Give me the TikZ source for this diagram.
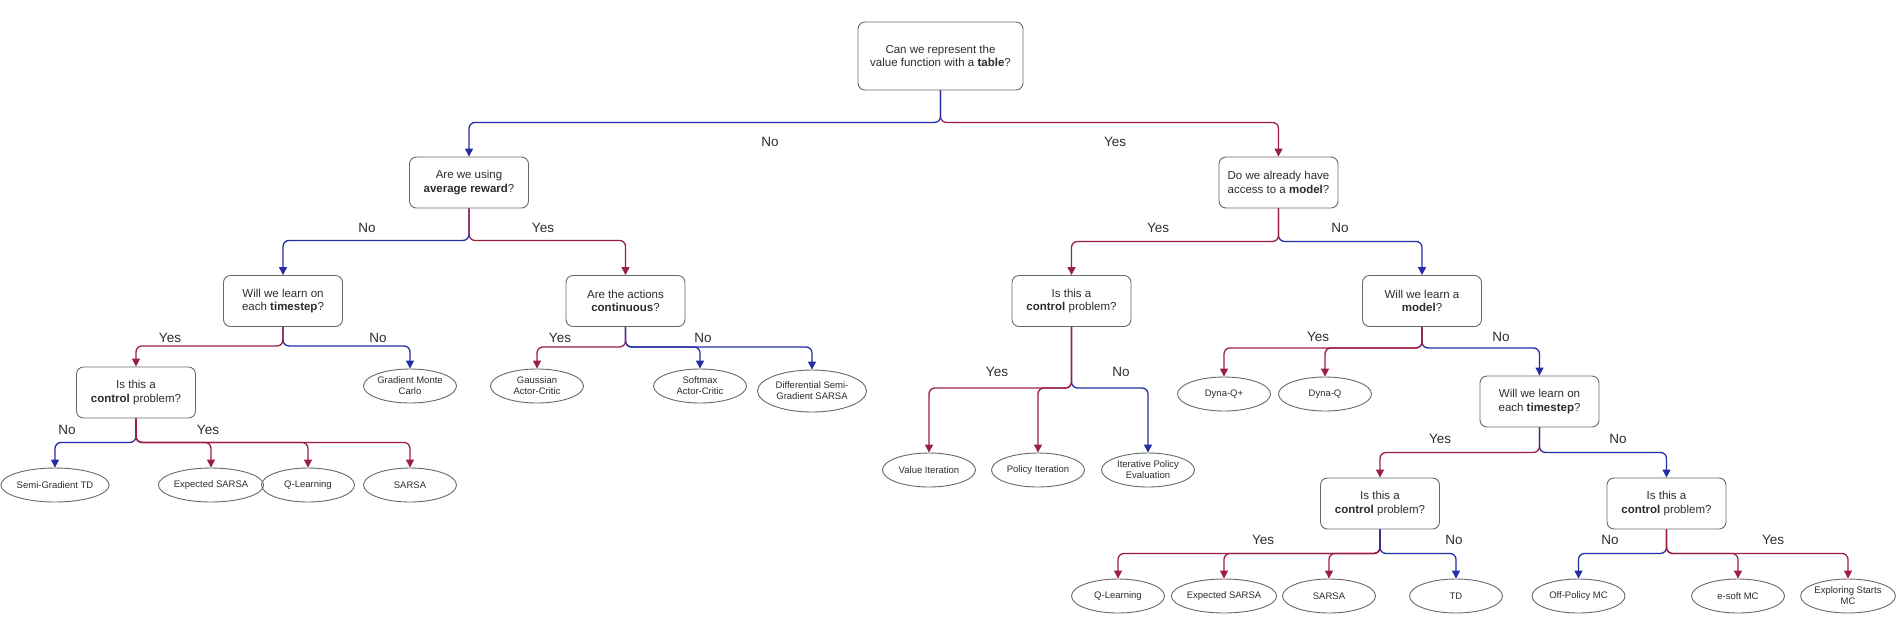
\documentclass[tikz,border=0pt]{standalone}
\usepackage{fontspec}
\setmainfont{Liberation Sans}
\usetikzlibrary{shapes.geometric,arrows.meta}
\definecolor{yescol}{RGB}{155,30,70}
\definecolor{nocol}{RGB}{35,45,165}
\definecolor{edgecol}{RGB}{105,105,105}
\definecolor{txtcol}{RGB}{45,45,45}
\begin{document}
\begin{tikzpicture}[x=1pt,y=-1pt,
    qbox/.style={draw=edgecol,line width=0.9pt,rounded corners=7pt,align=center,text=txtcol,
        font=\fontsize{11.5}{13.5}\selectfont,inner sep=0pt,minimum width=119pt,minimum height=51pt},
    leaf/.style={draw=edgecol,line width=0.9pt,ellipse,align=center,text=txtcol,
        font=\fontsize{9.5}{11}\selectfont,inner sep=0pt,minimum width=93pt,minimum height=34pt},
    yesl/.style={draw=yescol,line width=1.3pt,rounded corners=6pt,-{Triangle[length=8pt,width=8pt]}},
    nol/.style={yesl,draw=nocol},
    lbl/.style={font=\fontsize{13.5}{15}\selectfont,text=txtcol}]
    \fill[white] (0,0) rectangle (1901,625);
    \useasboundingbox (0,0) rectangle (1901,625);
    % questions
    \node[qbox,minimum width=165pt,minimum height=68pt] (root) at (940.5,56) {Can we represent the\\value function with a \textbf{table}?};
    \node[qbox] (avgq) at (469,182.5) {Are we using\\\textbf{average reward}?};
    \node[qbox] (modelq) at (1278.5,182.5) {Do we already have\\access to a \textbf{model}?};
    \node[qbox] (stepq) at (283,301) {Will we learn on\\each \textbf{timestep}?};
    \node[qbox] (contq) at (625.5,301) {Are the actions\\\textbf{continuous}?};
    \node[qbox] (ctrla) at (136,392.5) {Is this a\\\textbf{control} problem?};
    \node[qbox] (ctrlb) at (1071.5,301) {Is this a\\\textbf{control} problem?};
    \node[qbox] (learnq) at (1422,301) {Will we learn a\\\textbf{model}?};
    \node[qbox] (stepr) at (1539.5,401.5) {Will we learn on\\each \textbf{timestep}?};
    \node[qbox] (ctrlc) at (1380,503.5) {Is this a\\\textbf{control} problem?};
    \node[qbox] (ctrld) at (1666.5,503.5) {Is this a\\\textbf{control} problem?};
    % methods
    \node[leaf] (gmc) at (410,386) {Gradient Monte\\Carlo};
    \node[leaf] (sgtd) at (55,485) {Semi-Gradient TD};
    \node[leaf] (esa) at (211,485) {Expected SARSA};
    \node[leaf] (qla) at (308,485) {Q-Learning};
    \node[leaf] (sarsaa) at (410,485) {SARSA};
    \node[leaf] (gac) at (537,386) {Gaussian\\Actor-Critic};
    \node[leaf] (sac) at (700,386) {Softmax\\Actor-Critic};
    \node[leaf,minimum width=109pt,minimum height=42pt] (dsg) at (812,391) {Differential Semi-\\Gradient SARSA};
    \node[leaf] (vi) at (929,470) {Value Iteration};
    \node[leaf] (pi) at (1038,470) {Policy Iteration};
    \node[leaf] (ipe) at (1148,470) {Iterative Policy\\Evaluation};
    \node[leaf] (dqp) at (1224,394) {Dyna-Q+};
    \node[leaf] (dq) at (1325,394) {Dyna-Q};
    \node[leaf] (qlb) at (1118,596) {Q-Learning};
    \node[leaf] (esb) at (1224,596) {Expected SARSA};
    \node[leaf] (sarsab) at (1329,596) {SARSA};
    \node[leaf] (td) at (1456,596) {TD};
    \node[leaf] (offmc) at (1578.5,596) {Off-Policy MC};
    \node[leaf] (esoft) at (1738,596) {e-soft MC};
    \node[leaf] (esmc) at (1848,596) {Exploring Starts\\MC};
    % branches
    \draw[yesl] (root.south) -- ++(0,32) -| (modelq.north);
    \draw[nol] (root.south) -- ++(0,32) -| (avgq.north);
    \draw[nol] (avgq.south) -- ++(0,32) -| (stepq.north);
    \draw[yesl] (avgq.south) -- ++(0,32) -| (contq.north);
    \draw[nol] (modelq.south) -- ++(0,33) -| (learnq.north);
    \draw[yesl] (modelq.south) -- ++(0,33) -| (ctrlb.north);
    \draw[nol] (stepq.south) -- ++(0,19) -| (gmc.north);
    \draw[yesl] (stepq.south) -- ++(0,19) -| (ctrla.north);
    \draw[nol] (contq.south) -- ++(0,20) -| (sac.north);
    \draw[nol] (contq.south) -- ++(0,20) -| (dsg.north);
    \draw[yesl] (contq.south) -- ++(0,20) -| (gac.north);
    \draw[nol] (ctrla.south) -- ++(0,24) -| (sgtd.north);
    \draw[yesl] (ctrla.south) -- ++(0,24) -| (esa.north);
    \draw[yesl] (ctrla.south) -- ++(0,24) -| (qla.north);
    \draw[yesl] (ctrla.south) -- ++(0,24) -| (sarsaa.north);
    \draw[nol] (ctrlb.south) -- ++(0,61) -| (ipe.north);
    \draw[yesl] (ctrlb.south) -- ++(0,61) -| (vi.north);
    \draw[yesl] (ctrlb.south) -- ++(0,61) -| (pi.north);
    \draw[nol] (learnq.south) -- ++(0,21) -| (stepr.north);
    \draw[yesl] (learnq.south) -- ++(0,21) -| (dqp.north);
    \draw[yesl] (learnq.south) -- ++(0,21) -| (dq.north);
    \draw[yesl] (stepr.south) -- ++(0,25) -| (ctrlc.north);
    \draw[nol] (stepr.south) -- ++(0,25) -| (ctrld.north);
    \draw[yesl] (ctrlc.south) -- ++(0,24) -| (qlb.north);
    \draw[yesl] (ctrlc.south) -- ++(0,24) -| (esb.north);
    \draw[yesl] (ctrlc.south) -- ++(0,24) -| (sarsab.north);
    \draw[nol] (ctrlc.south) -- ++(0,24) -| (td.north);
    \draw[nol] (ctrld.south) -- ++(0,24) -| (offmc.north);
    \draw[yesl] (ctrld.south) -- ++(0,24) -| (esoft.north);
    \draw[yesl] (ctrld.south) -- ++(0,24) -| (esmc.north);
    % answers
    \node[lbl] (la) at (770,142) {No};
    \node[lbl] (lb) at (1115,142) {Yes};
    \node[lbl] (lc) at (367,228) {No};
    \node[lbl] (ld) at (543,228) {Yes};
    \node[lbl] (le) at (1158,228) {Yes};
    \node[lbl] (lf) at (1340,228) {No};
    \node[lbl] (lg) at (170,338) {Yes};
    \node[lbl] (lh) at (378,338) {No};
    \node[lbl] (li) at (560,338) {Yes};
    \node[lbl] (lj) at (703,338) {No};
    \node[lbl] (lk) at (67,430) {No};
    \node[lbl] (ll) at (208,430) {Yes};
    \node[lbl] (lm) at (997,372) {Yes};
    \node[lbl] (ln) at (1121,372) {No};
    \node[lbl] (lo) at (1318,337) {Yes};
    \node[lbl] (lp) at (1501,337) {No};
    \node[lbl] (lq) at (1440,439) {Yes};
    \node[lbl] (lr) at (1618,439) {No};
    \node[lbl] (ls) at (1263,540) {Yes};
    \node[lbl] (lt) at (1454,540) {No};
    \node[lbl] (lu) at (1610,540) {No};
    \node[lbl] (lv) at (1773,540) {Yes};
\end{tikzpicture}
\end{document}
